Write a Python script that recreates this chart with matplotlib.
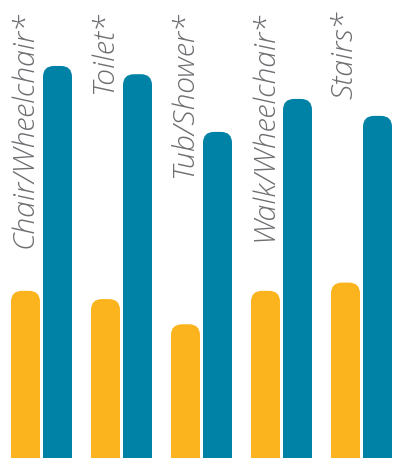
import matplotlib
matplotlib.use('Agg')
from matplotlib import pyplot as plt
from matplotlib.patches import FancyBboxPatch

# datos (porcentaje aproximado)
categorias = ['Chair/Wheelchair', 'Toilet', 'Tub/Shower', 'Walk/Wheelchair', 'Stairs']
serie_naranja = [36.5, 34.7, 29.2, 36.5, 38.3]
serie_azul = [85.6, 83.8, 71.2, 78.4, 74.7]

NARANJA = '#fbb41e'
AZUL = '#0081a6'
GRIS = '#6d6e71'

fig = plt.figure(figsize=(3.93, 4.58), dpi=100)
ax = fig.add_axes([0, 0, 1, 1])
ax.set_xlim(-41.5 / 80, (393 - 41.5) / 80)
ax.set_ylim(0, 100)
ax.axis('off')

ancho = 29 / 80
desp = 16 / 80
# relacion de escalas (unidades y por unidad x) para redondear igual en ambos ejes
aspecto = (100 / 458) / (1 / 80)
radio = 11 / 80

x = list(range(len(categorias)))
for serie, signo, color in [(serie_naranja, -1, NARANJA), (serie_azul, 1, AZUL)]:
    barras = ax.bar([i + signo * desp for i in x], serie, width=ancho, color=color)
    for b in barras:
        b.set_visible(False)
        x0, y0 = b.get_x(), b.get_y()
        w, h = b.get_width(), b.get_height()
        # empezamos por debajo del eje para ocultar el redondeo inferior
        p = FancyBboxPatch((x0, y0 - 10), w, h + 10,
                           boxstyle='round,pad=0,rounding_size=%f' % radio,
                           mutation_aspect=aspecto, fc=color, ec='none')
        ax.add_patch(p)

# etiquetas giradas con asterisco
for i, cat in enumerate(categorias):
    xt = i - desp + 7 / 80
    yt = 100 - 11 / 4.58
    ax.text(xt, yt, cat + '*', rotation=90, rotation_mode='anchor', ha='right', va='baseline',
            fontsize=21.8, color=GRIS, family='Open Sans', style='italic', weight='light')

fig.savefig('out.png', dpi=100)
